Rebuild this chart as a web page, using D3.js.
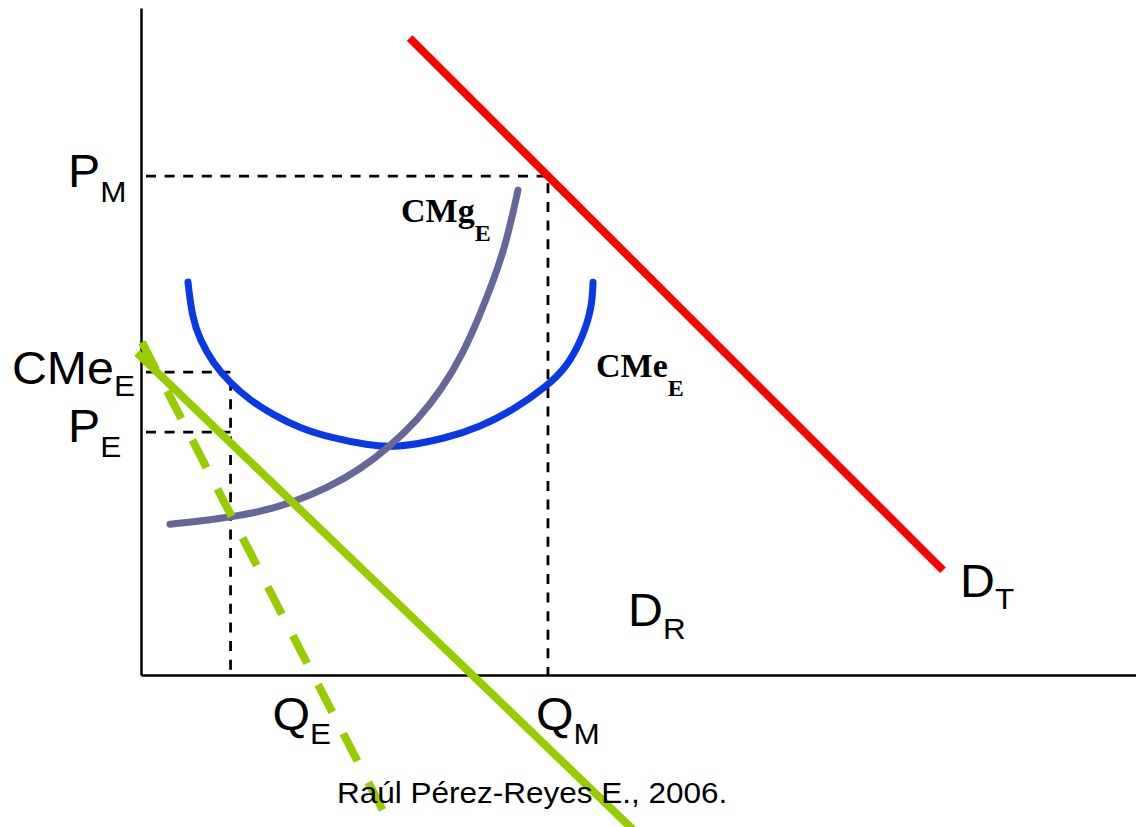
<!DOCTYPE html>
<html>
<head>
<meta charset="utf-8">
<script src="https://cdn.jsdelivr.net/npm/d3@7"></script>
<style>
  body { margin: 0; background: #fff; }
  svg { display: block; }
</style>
</head>
<body>
<div id="wrapper"></div>
<script>
// quantity (x) and price (y) values, in chart units 0..100
const demandTotal = [{ q: 27.0, p: 95.5 }, { q: 80.6, p: 15.7 }]
const demandResidual = [{ q: -0.4, p: 48.3 }, { q: 49.4, p: -23.1 }]
const marginalRevenue = [{ q: 0.1, p: 49.9 }, { q: 24.3, p: -20.3 }]
const averageCost = [
  { q: 4.72, p: 58.9 }, { q: 5.13, p: 53.7 }, { q: 5.93, p: 50.2 }, { q: 7.24, p: 46.8 },
  { q: 8.94, p: 43.8 }, { q: 10.95, p: 41.2 }, { q: 13.27, p: 39.0 }, { q: 15.98, p: 37.0 },
  { q: 19.30, p: 35.5 }, { q: 22.71, p: 34.5 }, { q: 25.53, p: 34.0 }, { q: 30.75, p: 35.5 },
  { q: 34.07, p: 37.2 }, { q: 37.39, p: 39.7 }, { q: 40.80, p: 43.3 }, { q: 42.81, p: 46.2 },
  { q: 44.42, p: 50.7 }, { q: 45.33, p: 55.2 }, { q: 45.43, p: 58.9 }
]
const marginalCost = [
  { q: 2.91, p: 22.6 }, { q: 6.93, p: 23.2 }, { q: 11.96, p: 24.4 }, { q: 15.28, p: 25.9 },
  { q: 18.69, p: 28.0 }, { q: 22.01, p: 30.8 }, { q: 25.03, p: 34.3 }, { q: 27.90, p: 38.4 },
  { q: 30.30, p: 43.0 }, { q: 32.36, p: 48.2 }, { q: 34.07, p: 54.0 }, { q: 35.58, p: 59.8 },
  { q: 36.58, p: 64.3 }, { q: 37.39, p: 69.3 }, { q: 37.89, p: 72.7 }
]
const qE = 9.0
const qM = 40.9
const pM = 74.8
const cmeE = 45.4
const pE = 36.4
const credit = "Raúl Pérez-Reyes E., 2006."

const redColor = "#ff0000"
const greenColor = "#99cc00"
const blueColor = "#0a38e6"
const mcColor = "#666699"

const width = 1136
const height = 827

const svg = d3.select("#wrapper")
  .append("svg")
    .attr("width", width)
    .attr("height", height)

const xScale = d3.scaleLinear().domain([0, 100]).range([141, 1136])
const yScale = d3.scaleLinear().domain([0, 100]).range([675, 8])

const line = d3.line()
  .x(d => xScale(d.q))
  .y(d => yScale(d.p))

// smooth the read-off points into the hand-drawn arcs
const curve = d3.line()
  .x(d => xScale(d.q))
  .y(d => yScale(d.p))
  .curve(d3.curveBasis)

// axes without ticks
svg.append("g")
  .attr("transform", `translate(0,${yScale(0)})`)
  .call(d3.axisBottom(xScale).tickValues([]).tickSizeOuter(0))
  .call(g => g.select(".domain").attr("stroke", "#000").attr("stroke-width", 2.5))

svg.append("g")
  .attr("transform", `translate(${xScale(0)},0)`)
  .call(d3.axisLeft(yScale).tickValues([]).tickSizeOuter(0))
  .call(g => g.select(".domain").attr("stroke", "#000").attr("stroke-width", 2.5))

// guide lines
const guides = [
  [{ q: 0, p: pM }, { q: qM, p: pM }, { q: qM, p: 0 }],
  [{ q: 0, p: cmeE }, { q: qE, p: cmeE }, { q: qE, p: 0 }],
  [{ q: 0, p: pE }, { q: qE, p: pE }]
]
svg.selectAll(".guide")
  .data(guides)
  .join("path")
    .attr("class", "guide")
    .attr("d", line)
    .attr("fill", "none")
    .attr("stroke", "#000")
    .attr("stroke-width", 2.8)
    .attr("stroke-dasharray", "10,8.6")
    .attr("stroke-dashoffset", 13.6)

// curves
svg.append("path")
  .attr("d", curve(averageCost))
  .attr("fill", "none")
  .attr("stroke", blueColor)
  .attr("stroke-width", 7)
  .attr("stroke-linecap", "round")

svg.append("path")
  .attr("d", curve(marginalCost))
  .attr("fill", "none")
  .attr("stroke", mcColor)
  .attr("stroke-width", 7)
  .attr("stroke-linecap", "round")

svg.append("path")
  .attr("d", line(demandTotal))
  .attr("fill", "none")
  .attr("stroke", redColor)
  .attr("stroke-width", 8)

svg.append("path")
  .attr("d", line(demandResidual))
  .attr("fill", "none")
  .attr("stroke", greenColor)
  .attr("stroke-width", 8)

svg.append("path")
  .attr("d", line(marginalRevenue))
  .attr("fill", "none")
  .attr("stroke", greenColor)
  .attr("stroke-width", 8)
  .attr("stroke-dasharray", "31,24")

// labels: main text + subscript
const sans = "'Liberation Sans', Arial, sans-serif"
const serif = "'Liberation Serif', 'Times New Roman', serif"

const labels = [
  { main: "P", sub: "M", x: 68, y: yScale(pM) + 11, size: 46, subSize: 30, dy: 15, font: sans, sx: 1.05 },
  { main: "CMe", sub: "E", x: 12, y: yScale(cmeE) + 12, size: 46, subSize: 30, dy: 12, font: sans, sx: 1.05 },
  { main: "P", sub: "E", x: 68, y: yScale(pE) + 10, size: 46, subSize: 30, dy: 15, font: sans, sx: 1.05 },
  { main: "Q", sub: "E", x: xScale(qE) + 42, y: 730, size: 46, subSize: 30, dy: 14, font: sans, sx: 1.05 },
  { main: "Q", sub: "M", x: xScale(qM) - 12, y: 730, size: 46, subSize: 30, dy: 14, font: sans, sx: 1.05 },
  { main: "D", sub: "R", x: 628, y: 626, size: 46, subSize: 30, dy: 13, font: sans, sx: 1.05 },
  { main: "D", sub: "T", x: 960, y: 597, size: 46, subSize: 30, dy: 12, font: sans, sx: 1.05 },
  { main: "CMg", sub: "E", x: 401, y: 222, size: 34, subSize: 24, dy: 19, font: serif, bold: true, sx: 1 },
  { main: "CMe", sub: "E", x: 596, y: 377, size: 34, subSize: 24, dy: 19, font: serif, bold: true, sx: 1 }
]

const labelText = svg.selectAll(".label")
  .data(labels)
  .join("text")
    .attr("class", "label")
    .attr("transform", d => `translate(${d.x},${d.y}) scale(${d.sx},1)`)
    .style("font-family", d => d.font)
    .style("font-weight", d => d.bold ? "bold" : "normal")
    .attr("fill", "#000")

labelText.append("tspan")
  .style("font-size", d => d.size + "px")
  .text(d => d.main)

labelText.append("tspan")
  .style("font-size", d => d.subSize + "px")
  .attr("dy", d => d.dy)
  .text(d => d.sub)

svg.append("text")
  .attr("transform", "translate(337,803) scale(1.05,1)")
  .style("font-family", sans)
  .style("font-size", "30px")
  .attr("fill", "#000")
  .text(credit)
</script>
</body>
</html>
